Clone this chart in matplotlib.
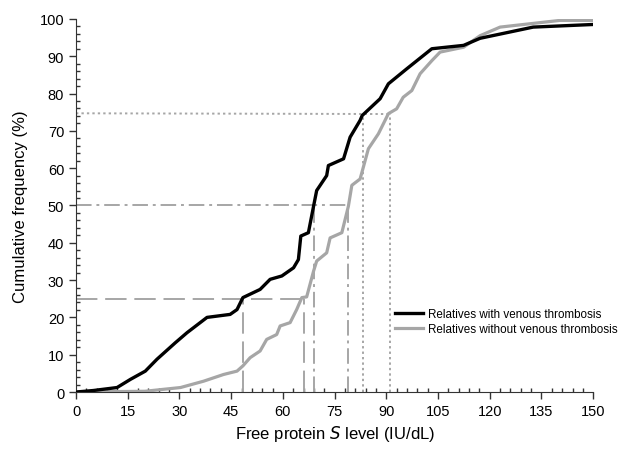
import matplotlib
matplotlib.use("Agg")
import matplotlib.pyplot as plt
from matplotlib.ticker import MultipleLocator

plt.rcParams['font.family'] = ['Liberation Sans', 'DejaVu Sans']

# cumulative curves
withX = [0, 5, 11.9, 15.8, 20.1, 23.5, 28.8, 32.2, 38.0, 44.7, 46.7, 48.4, 53.4, 56.3,
         59.7, 63.1, 64.5, 65.2, 67.4, 68.9, 69.8, 72.7, 73.2, 77.6, 79.5, 82.4, 83.0,
         88.2, 90.6, 95.9, 103.2, 112.4, 117.2, 132.6, 150]
withY = [0, 0.4, 1.2, 3.4, 5.6, 8.8, 13.2, 15.9, 20.0, 20.8, 22.1, 25.3, 27.5, 30.2,
         31.1, 33.3, 35.5, 41.8, 42.7, 49.8, 54.0, 58.0, 60.7, 62.5, 68.3, 72.8, 74.1,
         78.6, 82.6, 86.6, 92.0, 92.9, 94.8, 97.8, 98.5]

withoutX = [0, 20, 30.3, 37.0, 42.8, 46.7, 48.4, 50.5, 53.4, 55.3, 58.2, 59.2, 62.1,
            64.0, 65.5, 66.9, 68.9, 69.8, 72.7, 73.7, 77.1, 79.0, 80.0, 82.4, 84.8,
            87.7, 90.6, 93.0, 94.9, 97.4, 99.8, 103.2, 105.6, 112.4, 117.2, 123.0,
            140.4, 150]
withoutY = [0, 0.2, 1.2, 2.9, 4.7, 5.6, 7.0, 9.2, 11.0, 14.1, 15.4, 17.7, 18.6,
            22.1, 25.3, 25.5, 32.4, 35.1, 37.3, 41.3, 42.7, 49.8, 55.4, 57.1, 65.2,
            69.2, 74.6, 75.9, 79.0, 80.8, 85.3, 88.8, 91.1, 92.4, 95.5, 97.8,
            99.6, 99.6]

# quartile reference values (x for "with", x for "without")
q25 = (48.4, 66.0)
q50 = (68.9, 79.0)
q75 = (83.3, 91.1)
refGray = '#a6a6a6'

fig = plt.figure(figsize=(6.19, 4.52), dpi=100)
ax = fig.add_axes([0.1228, 0.1305, 0.8355, 0.8255])

# reference lines
ax.plot([0, q25[1]], [25, 25], color=refGray, lw=1.4, dashes=(11, 4))
ax.plot([q25[0], q25[0]], [0, 25], color=refGray, lw=1.4, dashes=(11, 4))
ax.plot([q25[1], q25[1]], [0, 25], color=refGray, lw=1.4, dashes=(11, 4))

ax.plot([0, q50[1]], [50, 50], color=refGray, lw=1.4, dashes=(8, 2.5, 1.5, 2.5))
ax.plot([q50[0], q50[0]], [0, 50], color=refGray, lw=1.4, dashes=(8, 2.5, 1.5, 2.5))
ax.plot([q50[1], q50[1]], [0, 50], color=refGray, lw=1.4, dashes=(8, 2.5, 1.5, 2.5))

ax.plot([0, q75[1]], [74.7, 74.5], color=refGray, lw=1.4, dashes=(1.2, 1.6))
ax.plot([q75[0], q75[0]], [0, 74.5], color=refGray, lw=1.4, dashes=(1.2, 1.6))
ax.plot([q75[1], q75[1]], [0, 74.5], color=refGray, lw=1.4, dashes=(1.2, 1.6))

ax.plot(withoutX, withoutY, color=refGray, lw=2.3, label="Relatives without venous thrombosis", zorder=3)
ax.plot(withX, withY, color='black', lw=2.4, label="Relatives with venous thrombosis", zorder=4)

ax.set_xlim(0, 150)
ax.set_ylim(0, 100)
ax.xaxis.set_major_locator(MultipleLocator(15))
ax.xaxis.set_minor_locator(MultipleLocator(3))
ax.yaxis.set_major_locator(MultipleLocator(10))
ax.yaxis.set_minor_locator(MultipleLocator(2))
ax.tick_params(which='major', direction='out', length=5, width=1, labelsize=10.5, color='#333333')
ax.tick_params(which='minor', direction='in', length=3, width=1, color='#333333')
for s in ['top', 'right']:
    ax.spines[s].set_visible(False)
for s in ['left', 'bottom']:
    ax.spines[s].set_color('#333333')

ax.set_xlabel("Free protein $\\it{S}$ level (IU/dL)", fontsize=12, labelpad=4)
ax.set_ylabel("Cumulative frequency (%)", fontsize=12, labelpad=8)

h, l = ax.get_legend_handles_labels()
ax.legend(h[::-1], l[::-1], loc='center left', bbox_to_anchor=(0.617, 0.189), frameon=False,
          fontsize=8.4, handlelength=2.4, handletextpad=0.4, labelspacing=0.2,
          borderaxespad=0, borderpad=0)

fig.savefig("out.png", dpi=100)
